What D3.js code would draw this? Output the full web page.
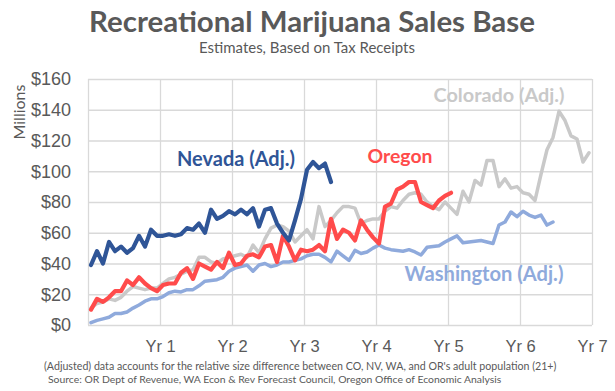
<!DOCTYPE html>
<html>
<head>
<meta charset="utf-8">
<script src="https://cdn.jsdelivr.net/npm/d3@7"></script>
<style>
  body { margin: 0; background: #fff; }
  svg { display: block; font-family: Lato, "Open Sans", sans-serif; }
  .grid line { stroke: #d9d9d9; stroke-width: 1.3; }
  .grid .domain { display: none; }
  .axis text { fill: #595959; }
  .axis .domain, .axis line { display: none; }
  .line { fill: none; stroke-linejoin: round; stroke-linecap: round; }
</style>
</head>
<body>
<div id="chart"></div>
<script>
// **** THE DATA ****
// monthly sales base, $ millions, month 0 = first month of legal sales
const nevada = [39,48,40,54,48,51,47,50,58,51,62,58,58,59,58,59,63,62,66,60,
  75,69,71,74,72,75,72,76,64,75,76,66,60,55,68,82,101,106,102,105,93]

const oregon = [10,17,15,18,22,22,29,26,31,27,24,22,26,27,27,34,37,30,40,38,
  36,41,37,47,39,40,45,46,44,51,52,41,58,51,42,49,48,49,52,48,
  69,56,62,60,55,68,62,57,53,77,79,88,90,93,93,80,78,76,81,84,86]

const colorado = [11,14,15,17,16,18,22,25,24,23,24,24,27,30,31,33,35,36,44,44,
  41,40,43,44,45,46,44,52,47,56,63,65,64,61,54,58,62,56,77,64,
  68,73,77,77,76,66,68,69,69,74,77,76,81,85,86,85,80,77,75,80,
  76,72,87,80,94,91,107,107,90,95,89,90,86,85,81,98,114,122,139,133,
  123,121,106,112]

const washington = [1.5,3,4,5,7.5,7.5,8.5,11,13,15.5,17,17,18.5,21,22,21.5,23,23,25.5,28.5,
  29,29.5,31,35,37,38,39,35,39,40,38,39,41,41,42,43,45,46,46,44,
  41,48,45,42,48.5,46.5,47.5,50,52,50,49,48.5,48,49,47.5,45.5,50.5,51,51.5,54,
  56,58,53.5,54,54.5,55,54,53,65,67,73.5,70.5,74,71.5,70,71.5,65,67]

const yearLabels = ["Yr 1","Yr 2","Yr 3","Yr 4","Yr 5","Yr 6","Yr 7"]
const monthsPerYear = 12

// **** THE SETUP ****
const width = 615
const height = 391
const margin = {top: 79, right: 23, bottom: 66, left: 88}
const plotW = width - margin.left - margin.right
const plotH = height - margin.top - margin.bottom

const xScale = d3.scaleLinear()
  .domain([0, yearLabels.length * monthsPerYear])
  .range([0, plotW])

const yScale = d3.scaleLinear()
  .domain([0, 160])
  .range([plotH, 0])

// points sit in the middle of their month
const line = d3.line()
  .x((d, i) => xScale(i + 0.5))
  .y(d => yScale(d))

// shrink/grow a text's font so it spans the wanted width
function fitWidth(sel, target) {
  const w = sel.node().getComputedTextLength()
  const fs = parseFloat(sel.style("font-size"))
  sel.style("font-size", (fs * target / w) + "px")
}

const svg = d3.select("#chart").append("svg")
  .attr("width", width)
  .attr("height", height)

// titles
svg.append("text")
  .attr("x", 312).attr("y", 32)
  .attr("text-anchor", "middle")
  .style("font-size", "29px").style("font-weight", "bold").style("fill", "#595959")
  .text("Recreational Marijuana Sales Base")
  .call(fitWidth, 446)

svg.append("text")
  .attr("x", 307).attr("y", 53)
  .attr("text-anchor", "middle")
  .style("font-size", "17px").style("fill", "#595959")
  .text("Estimates, Based on Tax Receipts")
  .call(fitWidth, 216)

const g = svg.append("g")
  .attr("transform", "translate(" + margin.left + "," + margin.top + ")")

// gridlines
g.append("g")
  .attr("class", "grid")
  .call(d3.axisLeft(yScale).ticks(8).tickSize(-plotW).tickFormat(""))

const yearTicks = d3.range(0, yearLabels.length + 1).map(k => k * monthsPerYear)
g.append("g")
  .attr("class", "grid")
  .attr("transform", "translate(0," + plotH + ")")
  .call(d3.axisBottom(xScale).tickValues(yearTicks).tickSize(-plotH).tickFormat(""))

// y axis
g.append("g")
  .attr("class", "axis")
  .style("font-size", "18px")
  .call(d3.axisLeft(yScale).ticks(8).tickSize(0).tickPadding(17).tickFormat(d => "$" + d))

// x axis: year labels at year ends
g.append("g")
  .attr("class", "axis")
  .style("font-size", "16.5px")
  .attr("transform", "translate(0," + plotH + ")")
  .call(d3.axisBottom(xScale)
    .tickValues(yearTicks.slice(1))
    .tickSize(0).tickPadding(15)
    .tickFormat((d, i) => yearLabels[i]))

// y axis title
svg.append("text")
  .attr("transform", "translate(25,112) rotate(-90)")
  .attr("text-anchor", "middle")
  .style("font-size", "16px").style("fill", "#595959")
  .text("Millions")

// lines
const series = [
  {name: "Washington (Adj.)", data: washington, color: "#8faadc", w: 3.5, lx: 484, ly: 281, lw: 159},
  {name: "Colorado (Adj.)", data: colorado, color: "#c9c9c9", w: 3.5, lx: 499, ly: 102, lw: 131},
  {name: "Oregon", data: oregon, color: "#ff4b4b", w: 4.2, lx: 400, ly: 163, lw: 65},
  {name: "Nevada (Adj.)", data: nevada, color: "#2f5597", w: 4.2, lx: 236, ly: 166, lw: 118}
]

g.selectAll(".line")
  .data(series)
  .enter().append("path")
  .attr("class", "line")
  .attr("stroke", d => d.color)
  .attr("stroke-width", d => d.w)
  .attr("d", d => line(d.data))

svg.selectAll(".lbl")
  .data(series)
  .enter().append("text")
  .attr("class", "lbl")
  .attr("x", d => d.lx).attr("y", d => d.ly)
  .attr("text-anchor", "middle")
  .style("font-size", "19.5px").style("font-weight", "bold")
  .style("fill", d => d.color)
  .text(d => d.name)
  .each(function (d) { fitWidth(d3.select(this), d.lw) })

// footnotes
svg.append("text")
  .attr("x", 44).attr("y", 370)
  .style("font-size", "11px").style("fill", "#595959")
  .text("(Adjusted) data accounts for the relative size difference between CO, NV, WA, and OR's adult population (21+)")
  .call(fitWidth, 513)

svg.append("text")
  .attr("x", 48).attr("y", 383)
  .style("font-size", "11px").style("fill", "#595959")
  .text("Source: OR Dept of Revenue, WA Econ & Rev Forecast Council, Oregon Office of Economic Analysis")
  .call(fitWidth, 454)
</script>
</body>
</html>
